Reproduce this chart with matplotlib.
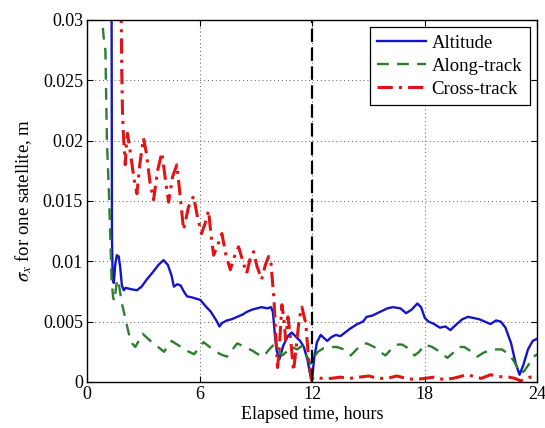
import numpy as np
import matplotlib
matplotlib.use("Agg")
import matplotlib.pyplot as plt

plt.rcParams["font.family"] = ["Liberation Serif", "DejaVu Serif"]
plt.rcParams["mathtext.fontset"] = "stix"

# --- data (hours, metres) ---
alt_t = [1.30, 1.32, 1.36, 1.42, 1.50, 1.58, 1.68, 1.76, 1.85, 1.95, 2.05, 2.3, 2.65,
         2.9, 3.18, 3.5, 3.8, 4.07, 4.3, 4.5, 4.62, 4.8, 4.98, 5.15, 5.32, 5.6, 6.03,
         6.3, 6.6, 6.92, 7.05, 7.2, 7.45, 7.7, 8.0, 8.3, 8.5, 8.8, 9.05, 9.3, 9.6, 9.8,
         9.9, 10.0, 10.1, 10.25, 10.45, 10.7, 10.9, 11.1, 11.35, 11.55, 11.75, 11.9,
         12.0, 12.1, 12.25, 12.45, 12.65, 12.8, 13.0, 13.25, 13.5, 13.75, 14.0, 14.4,
         14.7, 14.9, 15.2, 15.6, 16.0, 16.3, 16.7, 17.0, 17.3, 17.6, 17.8, 18.0, 18.2,
         18.5, 18.8, 19.1, 19.36, 19.7, 20.0, 20.3, 20.6, 20.9, 21.2, 21.5, 21.8, 22.05,
         22.3, 22.6, 22.85, 23.05, 23.25, 23.5, 23.75, 24.0]
alt_v = [0.032, 0.012, 0.0085, 0.0082, 0.0098, 0.0105, 0.0104, 0.0095, 0.0080, 0.0076,
         0.0078, 0.0077, 0.0076, 0.0079, 0.0085, 0.0091, 0.0097, 0.0101, 0.0097, 0.0088,
         0.0079, 0.0081, 0.0080, 0.0075, 0.0071, 0.0070, 0.0068, 0.0063, 0.0058, 0.0050,
         0.0046, 0.0049, 0.0051, 0.0052, 0.0054, 0.0056, 0.0058, 0.0060, 0.0061, 0.0062,
         0.0061, 0.0062, 0.0058, 0.0040, 0.0026, 0.0019, 0.0030, 0.0038, 0.0041, 0.0038,
         0.0034, 0.0029, 0.0018, 0.0005, 0.0003, 0.0020, 0.0033, 0.0039, 0.0036, 0.0034,
         0.0037, 0.0039, 0.0038, 0.0041, 0.0044, 0.0048, 0.0050, 0.0054, 0.0055, 0.0058,
         0.0061, 0.0062, 0.0061, 0.0057, 0.0060, 0.0065, 0.0062, 0.0053, 0.0050, 0.0048,
         0.0045, 0.0046, 0.0043, 0.0048, 0.0052, 0.0054, 0.0053, 0.0052, 0.0050, 0.0048,
         0.0051, 0.0050, 0.0045, 0.0032, 0.0015, 0.0006, 0.0014, 0.0027, 0.0034, 0.0036]

along_t = [0.78, 0.85, 0.92, 0.97, 1.05, 1.15, 1.23, 1.30, 1.38, 1.45, 1.55, 1.62, 1.72,
           1.85, 2.0, 2.1, 2.25, 2.4, 2.56, 2.75, 2.95, 3.3, 3.7, 4.1, 4.3, 4.5, 4.9,
           5.3, 5.7, 5.95, 6.2, 6.7, 7.1, 7.45, 7.75, 8.0, 8.4, 8.8, 9.1, 9.4, 9.7, 9.95,
           10.2, 10.4, 10.7, 10.9, 11.2, 11.45, 11.7, 11.9, 12.05, 12.3, 12.6, 12.96,
           13.3, 13.7, 14.05, 14.3, 14.6, 14.9, 15.3, 15.6, 15.9, 16.2, 16.5, 16.8, 17.1,
           17.45, 17.7, 18.0, 18.4, 18.8, 19.2, 19.5, 19.8, 20.1, 20.4, 20.8, 21.1, 21.4,
           21.8, 22.1, 22.5, 22.8, 23.1, 23.3, 23.6, 23.8, 24.0]
along_v = [0.031, 0.029, 0.028, 0.0275, 0.020, 0.016, 0.012, 0.0085, 0.0070, 0.0067,
           0.0080, 0.0085, 0.0078, 0.0065, 0.0055, 0.0048, 0.0038, 0.0032, 0.0029, 0.0034,
           0.0040, 0.0035, 0.0030, 0.0025, 0.0030, 0.0034, 0.0030, 0.0026, 0.0023, 0.0028,
           0.0033, 0.0027, 0.0023, 0.0021, 0.0027, 0.0032, 0.0029, 0.0026, 0.0023, 0.0021,
           0.0027, 0.0031, 0.0026, 0.0022, 0.0026, 0.0029, 0.0027, 0.0030, 0.0022, 0.0015,
           0.0020, 0.0025, 0.0028, 0.0029, 0.0029, 0.0027, 0.0022, 0.0026, 0.0031, 0.0032,
           0.0029, 0.0025, 0.0022, 0.0027, 0.0031, 0.0031, 0.0028, 0.0022, 0.0025, 0.0031,
           0.0029, 0.0025, 0.0020, 0.0024, 0.0029, 0.0029, 0.0026, 0.0021, 0.0024, 0.0026,
           0.0027, 0.0027, 0.0023, 0.0016, 0.0007, 0.0009, 0.0016, 0.0021, 0.0023]

cross_t = [1.81, 1.84, 1.88, 1.93, 1.97, 2.03, 2.08, 2.15, 2.3, 2.5, 2.65, 2.8, 3.0, 3.15,
           3.35, 3.54, 3.75, 3.98, 4.15, 4.34, 4.55, 4.78, 4.95, 5.14, 5.4, 5.67, 5.9,
           6.1, 6.3, 6.47, 6.6, 6.74, 6.95, 7.18, 7.4, 7.63, 7.85, 8.07, 8.3, 8.5, 8.7,
           8.87, 9.05, 9.3, 9.5, 9.67, 9.8, 9.95, 10.05, 10.15, 10.25, 10.38, 10.5, 10.58,
           10.7, 10.85, 11.0, 11.15, 11.3, 11.45, 11.55, 11.65, 11.8, 11.95, 12.1, 12.5,
           13.0, 13.5, 14.0, 14.5, 15.0, 15.5, 16.0, 16.5, 17.0, 17.5, 18.0, 18.5, 19.0,
           19.5, 20.0, 20.3, 20.7, 21.0, 21.5, 21.8, 22.2, 22.5, 22.8, 23.1, 23.3, 23.6, 24.0]
cross_v = [0.031, 0.026, 0.0225, 0.0205, 0.0195, 0.0180, 0.0195, 0.0206, 0.0190, 0.0168,
           0.0156, 0.0180, 0.0202, 0.0190, 0.0165, 0.0151, 0.0175, 0.0190, 0.0170, 0.0149,
           0.0170, 0.0180, 0.0155, 0.0126, 0.0145, 0.0154, 0.0135, 0.0123, 0.0132, 0.0142,
           0.0122, 0.0105, 0.0113, 0.0123, 0.0105, 0.0093, 0.0104, 0.0112, 0.0100, 0.0090,
           0.0103, 0.0108, 0.0096, 0.0085, 0.0097, 0.0104, 0.0098, 0.0070, 0.0040, 0.0012,
           0.0030, 0.0064, 0.0050, 0.0035, 0.0054, 0.0035, 0.0009, 0.0030, 0.0052, 0.0062,
           0.0055, 0.0049, 0.0020, 0.0002, 0.0004, 0.0003, 0.0003, 0.0004, 0.0003, 0.0004,
           0.0005, 0.0003, 0.0003, 0.0005, 0.0003, 0.0002, 0.0003, 0.0004, 0.0002, 0.0003,
           0.0005, 0.0006, 0.0004, 0.0003, 0.0006, 0.0005, 0.0004, 0.0004, 0.0003, 0.0001,
           0.0002, 0.0004, 0.0004]

xticks = [0, 6, 12, 18, 24]
yticks = [0, 0.005, 0.01, 0.015, 0.02, 0.025, 0.03]
ytick_labels = ["0", "0.005", "0.01", "0.015", "0.02", "0.025", "0.03"]

fig = plt.figure(figsize=(5.45, 4.28), dpi=100)
ax = fig.add_axes([0.160, 0.1075, 0.826, 0.846])

ax.plot(alt_t, alt_v, color="#1414c8", lw=1.7, label="Altitude")
ax.plot(along_t, along_v, color="#2f7d2f", lw=1.7, ls=(0, (5, 3.5)), label="Along-track")
ax.plot(cross_t, cross_v, color="#e01414", lw=2.2, ls=(0, (5, 2, 1, 2)), label="Cross-track")

# 12 h marker
ax.axvline(12, color="black", lw=1.6, ls=(0, (6, 2.5)))

ax.set_xlim(0, 24)
ax.set_ylim(0, 0.03)
ax.set_xticks(xticks)
ax.set_yticks(yticks)
ax.set_yticklabels(ytick_labels)
ax.tick_params(direction="in", top=True, right=True, labelsize=13, length=4, pad=3)
ax.grid(True, color="0.35", ls=(0, (1, 3)), lw=0.7)
for s in ax.spines.values():
    s.set_linewidth(1.0)

ax.set_xlabel("Elapsed time, hours", fontsize=13, labelpad=2)
ax.set_ylabel(r"$\sigma_x$ for one satellite, m", fontsize=13.5, labelpad=6)

leg = ax.legend(loc="upper right", fontsize=13.5, fancybox=False, framealpha=1,
                edgecolor="black", handlelength=2.6, borderaxespad=0.4,
                labelspacing=0.3, borderpad=0.4, handletextpad=0.3)
leg.get_frame().set_linewidth(0.9)

fig.savefig("out.png", dpi=100)
